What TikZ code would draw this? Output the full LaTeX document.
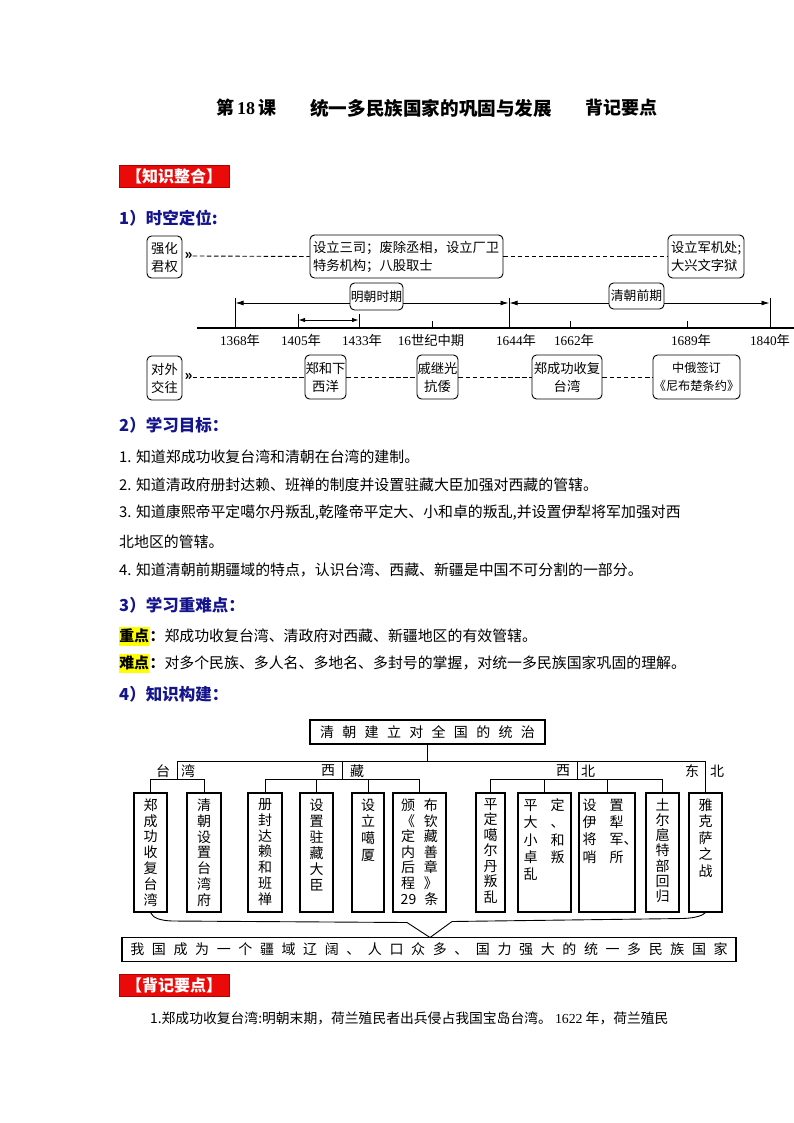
\documentclass[tikz,border=0pt]{standalone}
\usepackage{fontspec}
\setmainfont{Noto Sans CJK SC}
\newfontfamily\tnr{Liberation Serif}
\usetikzlibrary{arrows.meta}
\definecolor{navy}{RGB}{20,20,140}
\definecolor{redbox}{RGB}{235,10,10}
\definecolor{hiyel}{RGB}{255,255,0}
\newcommand\ksp{8.3pt}
\def\kspread#1{\kspfirst#1\relax}
\def\kspfirst#1{#1\kspx}
\def\kspx#1{\ifx#1\relax\else\kern\ksp#1\expandafter\kspx\fi}
\begin{document}
\begin{tikzpicture}[x=1pt,y=-1pt,
  tl/.style={inner sep=0pt,anchor=west},
  head/.style={tl,font=\fontsize{16.5}{17}\selectfont\bfseries,text=navy},
  body/.style={tl,font=\fontsize{14.9}{16}\selectfont},
  redlabel/.style={fill=redbox,draw=red!70!black,line width=0.5pt,minimum width=110,minimum height=22,inner sep=0pt,text=white,font=\fontsize{16}{16}\selectfont\bfseries},
  rbox/.style={draw,rounded corners=4.5pt,line width=0.9pt,inner sep=0pt,fill=white,align=center,font=\fontsize{13.3}{18}\selectfont},
  lbox/.style={draw,rounded corners=4.5pt,line width=0.9pt,inner ysep=0pt,inner xsep=3pt,align=left,fill=white,font=\fontsize{13.3}{18}\selectfont},
  dashl/.style={dash pattern=on 4.5pt off 2.6pt,line width=0.9pt},
  gg/.style={inner sep=0pt,font=\fontsize{14}{14}\selectfont\bfseries},
  yl/.style={inner sep=0pt,font=\fontsize{13.3}{14}\selectfont},
  tline/.style={line width=0.9pt},
  darr/.style={line width=0.9pt,{Latex[length=8pt,width=5pt]}-{Latex[length=8pt,width=5pt]}},
  sarr/.style={line width=0.9pt,{Latex[length=6.5pt,width=4.5pt]}-{Latex[length=6.5pt,width=4.5pt]}},
  kbox/.style={draw,line width=1.1pt,minimum height=119,inner sep=0pt},
  vt/.style={inner sep=0pt,anchor=north,align=center,font=\fontsize{14}{15.8}\selectfont},
  vtl/.style={inner sep=0pt,anchor=north west,align=left,font=\fontsize{14}{17.3}\selectfont},
  lab/.style={inner sep=0pt,font=\fontsize{14}{14}\selectfont},
  kline/.style={line width=0.9pt},
]
\fill[white] (0,0) rectangle (794,1123);
\useasboundingbox (0,0) rectangle (794,1123);

% ---------- title ----------
\node[tl,font=\fontsize{18}{18}\selectfont\bfseries] (ti1) at (216,108) {第\,{\tnr\bfseries 18}\,课};
\node[tl,font=\fontsize{18.6}{19}\selectfont\bfseries] (ti2) at (310,108) {统一多民族国家的巩固与发展};
\node[tl,font=\fontsize{18}{18}\selectfont\bfseries] (ti3) at (585,108) {背记要点};

\node[redlabel] (zs) at (174,176) {【知识整合】};
\node[head] (h1) at (119,218) {1）时空定位:};

% ---------- timeline top row ----------
\node[rbox,minimum width=35,minimum height=42] (qh) at (164.5,257) {强化\\君权};
\node[gg,anchor=west] (g1) at (184.5,256) {»};
\node[lbox,text width=187,minimum height=43] (sz) at (406.5,256.5) {设立三司；废除丞相，设立厂卫\\特务机构；八股取士};
\node[lbox,text width=70,minimum height=43] (jj) at (706,256.5) {设立军机处;\\大兴文字狱};
\draw[dashl] (g1.east) -- (sz.west);
\draw[dashl] (sz.east) -- (jj.west);

% ---------- axis ----------
\coordinate (ax0) at (197,328);
\coordinate (ax1) at (794,328);
\coordinate (a1368u) at (235,298);
\coordinate (a1368) at (235,328);
\coordinate (a1644u) at (509,298);
\coordinate (a1644) at (509,328);
\coordinate (a1840u) at (770,298);
\coordinate (a1840) at (770,328);
\coordinate (m1) at (235.5,303);
\coordinate (m2) at (508.5,303);
\coordinate (q1) at (509.5,303);
\coordinate (q2) at (769.5,303);
\coordinate (s1u) at (298,314);
\coordinate (s1) at (298,328);
\coordinate (s2u) at (359,314);
\coordinate (s2) at (359,328);
\coordinate (sa1) at (298.5,320);
\coordinate (sa2) at (358.5,320);
\coordinate (k16u) at (432,321);
\coordinate (k16) at (432,328);
\coordinate (k1662u) at (570,321);
\coordinate (k1662) at (570,328);
\coordinate (k1689u) at (687,321);
\coordinate (k1689) at (687,328);

\draw[line width=1.1pt] (ax0) -- (ax1);
\draw[tline] (a1368u) -- (a1368);
\draw[tline] (a1644u) -- (a1644);
\draw[tline] (a1840u) -- (a1840);
\draw[tline] (s1u) -- (s1);
\draw[tline] (s2u) -- (s2);
\draw[tline] (k16u) -- (k16);
\draw[tline] (k1662u) -- (k1662);
\draw[tline] (k1689u) -- (k1689);
\draw[darr] (m1) -- (m2);
\draw[darr] (q1) -- (q2);
\draw[sarr] (sa1) -- (sa2);
\node[rbox,minimum width=53,minimum height=27,font=\fontsize{12.8}{13}\selectfont] (ming) at (376.5,296.5) {明朝时期};
\node[rbox,minimum width=55,minimum height=26,font=\fontsize{12.8}{13}\selectfont] (qing) at (636.5,296) {清朝前期};

\node[yl] (y1368) at (240,340) {{\tnr 1368}年};
\node[yl] (y1405) at (301,340) {{\tnr 1405}年};
\node[yl] (y1433) at (362,340) {{\tnr 1433}年};
\node[yl] (y16) at (431,340) {{\tnr 16}世纪中期};
\node[yl] (y1644) at (516,340) {{\tnr 1644}年};
\node[yl] (y1662) at (574,340) {{\tnr 1662}年};
\node[yl] (y1689) at (691,340) {{\tnr 1689}年};
\node[yl] (y1840) at (770,340) {{\tnr 1840}年};

% ---------- timeline bottom row ----------
\node[rbox,minimum width=35,minimum height=44] (dw) at (164.5,378) {对外\\交往};
\node[gg,anchor=west] (g2) at (184.5,377) {»};
\node[rbox,minimum width=41,minimum height=44] (zh) at (325.5,377) {郑和下\\西洋};
\node[rbox,minimum width=41,minimum height=44] (qj) at (437.5,377) {戚继光\\抗倭};
\node[rbox,minimum width=70,minimum height=44] (zc) at (567,377) {郑成功收复\\台湾};
\node[rbox,minimum width=87,minimum height=44,font=\fontsize{12.2}{18}\selectfont] (zq) at (696.5,377) {中俄签订\\《尼布楚条约》};
\draw[dashl] (g2.east) -- (zh.west);
\draw[dashl] (zh.east) -- (qj.west);
\draw[dashl] (qj.east) -- (zc.west);
\draw[dashl] (zc.east) -- (zq.west);

% ---------- section 2 ----------
\node[head] (h2) at (119,425) {2）学习目标：};
\node[body] (o1) at (119,457) {1. 知道郑成功收复台湾和清朝在台湾的建制。};
\node[body] (o2) at (119,485) {2. 知道清政府册封达赖、班禅的制度并设置驻藏大臣加强对西藏的管辖。};
\node[body] (o3) at (119,513) {3. 知道康熙帝平定噶尔丹叛乱,乾隆帝平定大、小和卓的叛乱,并设置伊犁将军加强对西};
\node[body] (o3b) at (119,542) {北地区的管辖。};
\node[body] (o4) at (119,570) {4. 知道清朝前期疆域的特点，认识台湾、西藏、新疆是中国不可分割的一部分。};

% ---------- section 3 ----------
\node[head] (h3) at (119,605) {3）学习重难点：};
\node[fill=hiyel,inner sep=0pt,minimum width=30,minimum height=19,anchor=west,font=\fontsize{14.9}{16}\selectfont\bfseries] (zd) at (119,636) {重点};
\node[body] (zdt) at (zd.east) {\textbf{：}郑成功收复台湾、清政府对西藏、新疆地区的有效管辖。};
\node[fill=hiyel,inner sep=0pt,minimum width=30,minimum height=19,anchor=west,font=\fontsize{14.9}{16}\selectfont\bfseries] (nd) at (119,663) {难点};
\node[body] (ndt) at (nd.east) {\textbf{：}对多个民族、多人名、多地名、多封号的掌握，对统一多民族国家巩固的理解。};

% ---------- section 4 ----------
\node[head] (h4) at (119,694) {4）知识构建：};

\node[draw,line width=1.2pt,minimum width=235,minimum height=24,inner sep=0pt,font=\fontsize{14}{14}\selectfont] (top) at (427.5,732) {\kspread{清朝建立对全国的统治}};

\node[kbox,minimum width=33] (b1) at (150.5,852.5) {};
\node[kbox,minimum width=34] (b2) at (204,852.5) {};
\node[kbox,minimum width=34] (b3) at (265,852.5) {};
\node[kbox,minimum width=33] (b4) at (316.5,852.5) {};
\node[kbox,minimum width=32] (b5) at (368,852.5) {};
\node[kbox,minimum width=53] (b6) at (419.5,852.5) {};
\node[kbox,minimum width=29] (b7) at (490.5,852.5) {};
\node[kbox,minimum width=53] (b8) at (544.5,852.5) {};
\node[kbox,minimum width=56] (b9) at (607,852.5) {};
\node[kbox,minimum width=33] (b10) at (662.5,852.5) {};
\node[kbox,minimum width=33] (b11) at (705.5,852.5) {};

\node[vt] (t1) at ([yshift=-6pt]b1.north) {郑\\成\\功\\收\\复\\台\\湾};
\node[vt] (t2) at ([yshift=-6pt]b2.north) {清\\朝\\设\\置\\台\\湾\\府};
\node[vt] (t3) at ([yshift=-6pt]b3.north) {册\\封\\达\\赖\\和\\班\\禅};
\node[vt,font=\fontsize{14}{16}\selectfont] (t4) at ([yshift=-6pt]b4.north) {设\\置\\驻\\藏\\大\\臣};
\node[vt,font=\fontsize{14}{16.7}\selectfont] (t5) at ([yshift=-6pt]b5.north) {设\\立\\噶\\厦};
\node[vt,font=\fontsize{14}{15.6}\selectfont] (t6) at ([yshift=-6pt]b6.north) {颁\kern9pt 布\\《\kern9pt 钦\\定\kern9pt 藏\\内\kern9pt 善\\后\kern9pt 章\\程\kern9pt 》\\29\kern8pt 条};
\node[vt,font=\fontsize{14}{15.5}\selectfont] (t7) at ([yshift=-6pt]b7.north) {平\\定\\噶\\尔\\丹\\叛\\乱};
\node[vtl] (t8) at ([xshift=6pt,yshift=-6pt]b8.north west) {平\kern13pt 定\\大\kern13pt 、\\小\kern13pt 和\\卓\kern13pt 叛\\乱};
\node[vtl] (t9) at ([xshift=4pt,yshift=-6pt]b9.north west) {设\kern13pt 置\\伊\kern13pt 犁\\将\kern13pt 军、\\哨\kern13pt 所};
\node[vt,font=\fontsize{14}{15.2}\selectfont] (t10) at ([yshift=-6pt]b10.north) {土\\尔\\扈\\特\\部\\回\\归};
\node[vt,font=\fontsize{14}{16.5}\selectfont] (t11) at ([yshift=-6pt]b11.north) {雅\\克\\萨\\之\\战};

\node[lab] (ltai) at (163,771) {台};
\node[lab] (lwan) at (188,771) {湾};
\node[lab] (lxi1) at (328,771) {西};
\node[lab] (lzang) at (357,771) {藏};
\node[lab] (lxi2) at (563,771) {西};
\node[lab] (lbei1) at (588,771) {北};
\node[lab] (ldong) at (692,771) {东};
\node[lab] (lbei2) at (717,771) {北};

\coordinate (hl) at (177,761);
\coordinate (hr) at (705.5,761);
\coordinate (twd) at (177,779);
\coordinate (xzu) at (342,761);
\coordinate (xzd) at (342,779);
\coordinate (xbu) at (577,761);
\coordinate (xbd) at (577,779);
\draw[kline] (top.south) -- (top.south |- hl);
\draw[kline] (twd) -- (hl) -- (hr) -- (b11.north);
\draw[kline] (b1.north |- twd) -- (b2.north |- twd);
\draw[kline] (b1.north |- twd) -- (b1.north);
\draw[kline] (b2.north |- twd) -- (b2.north);
\draw[kline] (xzu) -- (xzd);
\draw[kline] (b3.north |- xzd) -- (b6.north |- xzd);
\foreach \b in {b3,b4,b5,b6} \draw[kline] (\b.north |- xzd) -- (\b.north);
\draw[kline] (xbu) -- (xbd);
\draw[kline] (b7.north |- xbd) -- (b10.north |- xbd);
\foreach \b in {b7,b8,b9,b10} \draw[kline] (\b.north |- xbd) -- (\b.north);

\node[draw,line width=1.2pt,minimum width=614,minimum height=23.5,inner sep=0pt,font=\fontsize{14}{14}\selectfont] (bot) at (429,949.5) {\renewcommand\ksp{7.6pt}\kspread{我国成为一个疆域辽阔、人口众多、国力强大的统一多民族国家}};
\coordinate (apex) at (430,937.5);
\draw[kline] (b1.south) .. controls (153,918) and (160,920.5) .. (172,921) -- (407,922.5) -- (apex) -- (452,921.5) -- (683,918.5) .. controls (697,918) and (703,915) .. (b11.south);

% ---------- bottom ----------
\node[redlabel] (bj) at (174,985) {【背记要点】};
\node[tl,font=\fontsize{13.8}{14}\selectfont] (l1) at (150,1018) {1.郑成功收复台湾:明朝末期，荷兰殖民者出兵侵占我国宝岛台湾。 {\tnr 1622} 年，荷兰殖民};
\end{tikzpicture}
\end{document}
